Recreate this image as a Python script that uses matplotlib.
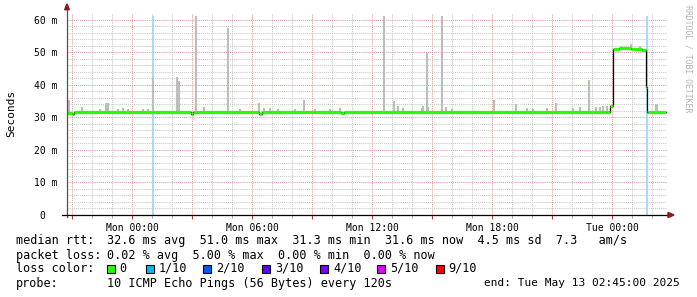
import numpy as np
import matplotlib
matplotlib.use("Agg")
import matplotlib.pyplot as plt
from matplotlib.ticker import FixedLocator, FuncFormatter
from matplotlib.patches import Rectangle, Polygon

W, H = 697, 297
MONO = "DejaVu Sans Mono"

# time axis: hours since Sun 20:45 (30 h window ending Tue 02:45)
tick_hours = [3.25, 9.25, 15.25, 21.25, 27.25]
tick_labels = ["Mon 00:00", "Mon 06:00", "Mon 12:00", "Mon 18:00", "Tue 00:00"]

# median rtt (ms) as steps: start hour, value, loss level of the segment
med_t = [0.0, 0.25, 0.35, 6.18, 6.30, 9.60, 9.75, 13.70, 13.85, 26.95,
         27.15, 27.28, 27.60, 28.20, 28.75, 28.93, 28.98, 29.05]
med_v = [31.4, 30.9, 31.5, 31.0, 31.6, 31.0, 31.5, 31.3, 31.5, 31.6,
         33.6, 50.8, 51.2, 50.9, 50.6, 39.3, 31.6, 31.6]
med_loss = [0, 0, 0, 0, 0, 0, 0, 0, 0, 0,
            0, 0, 0, 0, 0, 0, 1, 0]
data_end = 29.93

# smoke spikes: hour, top of the spread (ms)
spike_t = [0.12, 0.73, 1.65, 1.95, 2.05, 2.55, 2.80, 3.05, 3.80, 4.05,
           4.30, 5.51, 5.60, 6.43, 6.85, 8.07, 8.65, 9.62, 9.85, 10.15,
           10.55, 11.40, 11.85, 12.40, 13.15, 13.65, 15.85, 16.35, 16.55, 16.80,
           17.73, 17.80, 17.98, 18.05, 18.76, 18.95, 19.25, 21.35, 22.43, 22.98,
           23.30, 24.00, 24.43, 25.30, 25.65, 26.12, 26.45, 26.65, 26.80, 26.98,
           27.73, 28.20, 28.65, 29.43, 29.50]
spike_top = [35.4, 33.2, 32.5, 34.3, 34.3, 32.6, 32.7, 32.6, 32.6, 32.4,
             42.0, 42.5, 41.0, 61.2, 33.2, 57.3, 32.5, 34.4, 32.8, 32.8,
             32.5, 32.6, 35.4, 32.5, 32.6, 32.8, 61.2, 35.0, 33.5, 32.8,
             32.8, 33.5, 49.8, 33.0, 61.2, 33.0, 32.6, 35.2, 34.0, 32.8,
             32.6, 32.8, 34.4, 32.8, 33.2, 41.3, 33.2, 33.0, 33.4, 33.4,
             52.0, 52.6, 52.0, 34.0, 34.0]

# packet loss shown as background
loss_t = [4.30, 29.00]

loss_colors = ["#26ff00", "#00b8ff", "#0059ff", "#5e00ff", "#7e00ff", "#dd00ff", "#ff0000"]
loss_names = ["0", "1/10", "2/10", "3/10", "4/10", "5/10", "9/10"]

fig = plt.figure(figsize=(W / 100, H / 100), dpi=100)
fig.patch.set_facecolor("white")
ax = fig.add_axes([67 / W, 82 / H, 600 / W, 202 / H])
ax.set_xlim(0, 30)
ax.set_ylim(0, 62)
for s in ax.spines.values():
    s.set_visible(False)

# grid
ax.xaxis.set_major_locator(FixedLocator(np.arange(0.25, 30, 3)))
ax.xaxis.set_minor_locator(FixedLocator(np.arange(0.25, 30, 1)))
ax.yaxis.set_major_locator(FixedLocator(np.arange(0, 61, 10)))
ax.yaxis.set_minor_locator(FixedLocator(np.arange(0, 61, 2)))
ax.grid(which="minor", color="#c8c8c8", lw=0.75, ls=(0, (1, 1)))
ax.grid(which="major", color="#dc9c9c", lw=0.75, ls=(0, (1, 1)))
ax.set_axisbelow(True)

lab = dict(zip(tick_hours, tick_labels))
ax.xaxis.set_major_formatter(FuncFormatter(lambda v, p: lab.get(round(v, 2), "")))
ax.yaxis.set_major_formatter(FuncFormatter(lambda v, p: "0  " if v == 0 else f"{v:.0f} m"))
ax.tick_params(axis="x", which="major", length=3, color="#c04040", pad=3,
               labelsize=7, direction="out")
ax.tick_params(axis="x", which="minor", length=2, color="#999999", direction="out")
ax.tick_params(axis="y", which="major", length=0, pad=7, labelsize=7)
ax.tick_params(axis="y", which="minor", length=0)
for t in ax.get_xticklabels() + ax.get_yticklabels():
    t.set_family(MONO)

# loss background
for lt in loss_t:
    ax.axvspan(lt - 0.035, lt + 0.035, ymax=61.2 / 62, color="#a8dcf4", lw=0, zorder=1)

# smoke
idx = np.searchsorted(med_t, spike_t, side="right") - 1
base = np.array(med_v)[idx]
ax.vlines(spike_t, base, spike_top, color="#bdbdbd", lw=1.5, zorder=2)

# median line: thin black steps + thick colored segments
ax.step(med_t + [data_end], med_v + [med_v[-1]], where="post",
        color="black", lw=0.9, zorder=3)
seg_end = med_t[1:] + [data_end]
ax.hlines(med_v, med_t, seg_end, colors=[loss_colors[l] for l in med_loss],
          lw=2.3, zorder=4)

# axes lines and arrows
ax.plot([0, 0], [-0.6, 63.5], color="#505050", lw=0.9, clip_on=False, zorder=5)
ax.plot([-0.25, 30.1], [0, 0], color="black", lw=0.9, clip_on=False, zorder=5)
ax.add_patch(Polygon([[-0.12, 63.0], [0.12, 63.0], [0.0, 64.8]], closed=True,
                     color="#8b1a1a", clip_on=False, zorder=6))
ax.add_patch(Polygon([[30.05, -0.8], [30.05, 0.8], [30.35, 0.0]], closed=True,
                     color="#8b1a1a", clip_on=False, zorder=6))


def px(x, y):
    return x / W, 1 - y / H


fig.text(*px(11, 113), "Seconds", rotation=90, ha="center", va="center",
         family=MONO, fontsize=8)
fig.text(*px(688, 5), "RRDTOOL / TOBI OETIKER", rotation=270, ha="center", va="top",
         family=MONO, fontsize=5.9, color="#b4b4b4")

fs = 8.5
rtt_line = "32.6 ms avg  51.0 ms max  31.3 ms min  31.6 ms now  4.5 ms sd  7.3   am/s"
loss_line = "0.02 % avg  5.00 % max  0.00 % min  0.00 % now"
probe_line = "10 ICMP Echo Pings (56 Bytes) every 120s"
end_line = "end: Tue May 13 02:45:00 2025"


def txt(x, y, s, size=fs, **kw):
    fig.text(*px(x, y), s, va="center", family=MONO, fontsize=size, **kw)


txt(16, 240.7, "median rtt:")
txt(107, 240.7, rtt_line)
txt(16, 255.0, "packet loss:")
txt(107, 255.0, loss_line)
txt(16, 283.3, "probe:")
txt(107, 283.3, probe_line)
txt(680, 283.3, end_line, size=8.0, ha="right")

txt(16, 268.3, "loss color:")
sq_x = [106.7, 146.0, 203.3, 261.7, 320.0, 377.3, 435.7]
for sx, c, n in zip(sq_x, loss_colors, loss_names):
    fig.patches.append(Rectangle(px(sx, 272.7), 8 / W, 8 / H, facecolor=c,
                                 edgecolor="black", lw=0.8, transform=fig.transFigure))
    txt(sx + 13, 268.3, n)

fig.savefig("out.png", dpi=100)
